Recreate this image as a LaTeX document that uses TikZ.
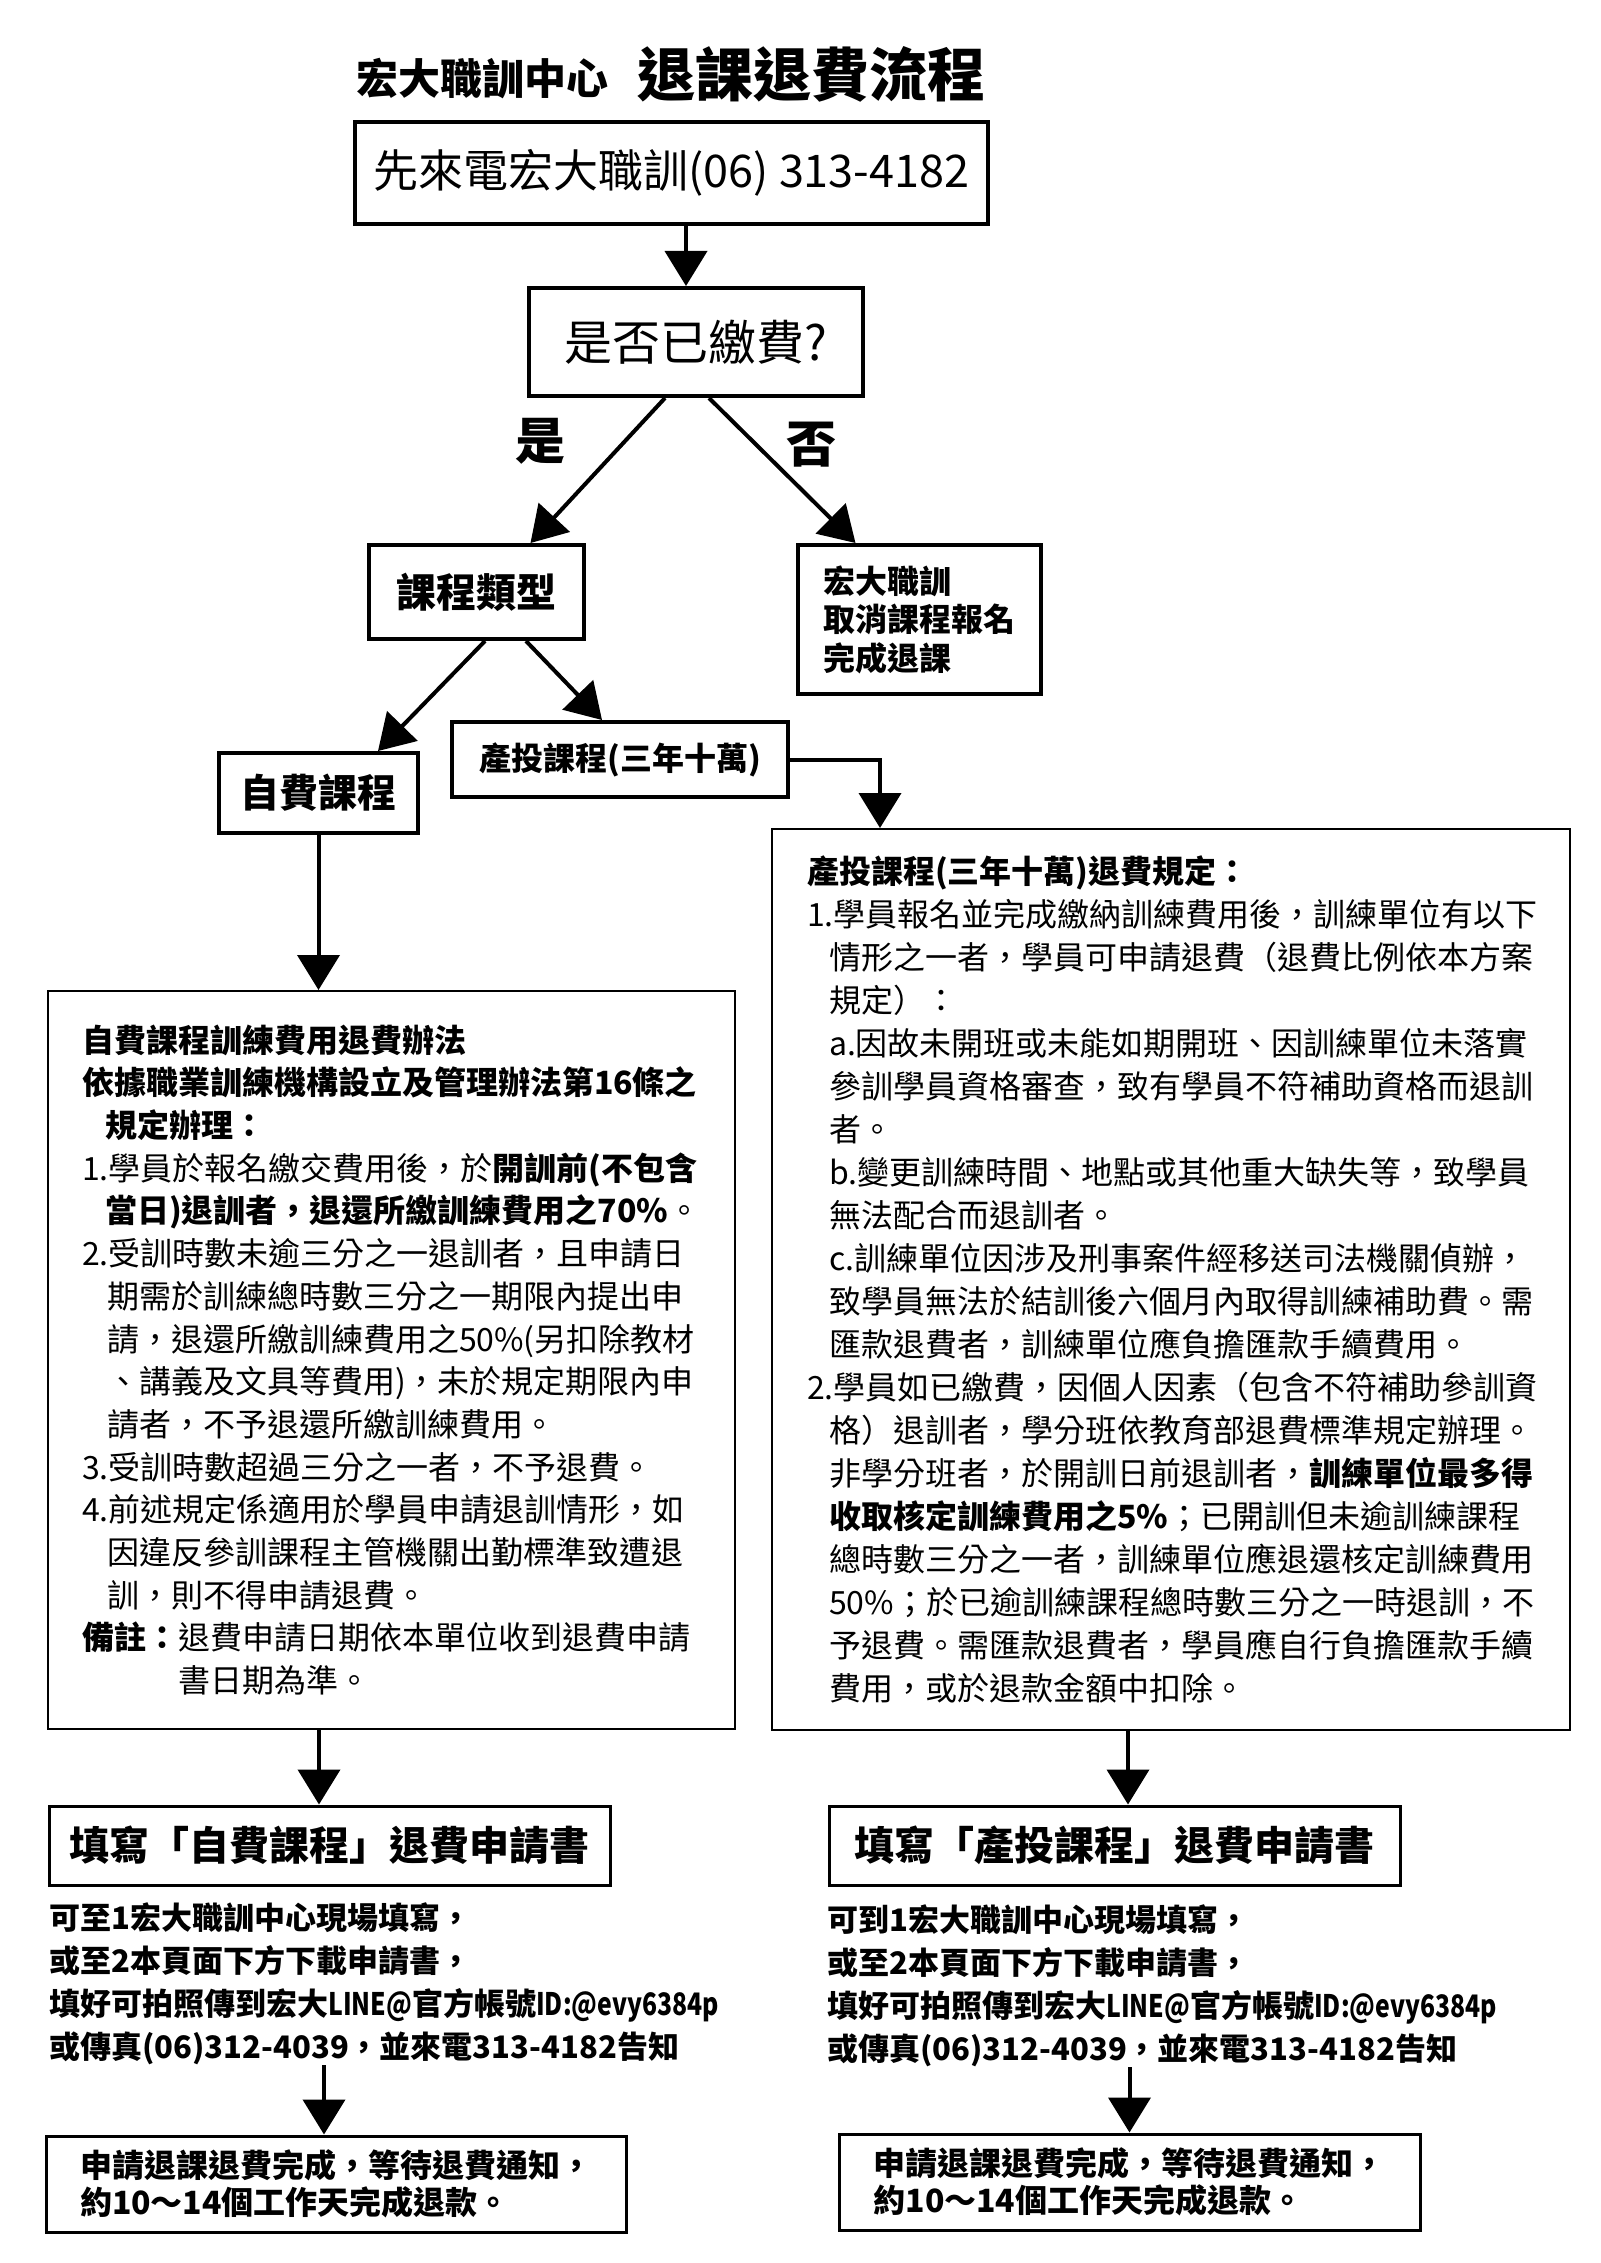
\documentclass[tikz,border=0pt]{standalone}
\usepackage{fontspec}
\setmainfont{Noto Sans CJK TC}
\newfontfamily\narrowlatin[FakeStretch=0.8]{Noto Sans CJK TC}
\usetikzlibrary{arrows.meta,calc}

\newcommand{\setfs}[2]{\fontsize{#1}{#2}\selectfont}
\newcommand{\nl}[1]{{\narrowlatin\bfseries #1}}

\tikzset{
  box/.style={draw, line width=2pt, inner sep=0pt, align=center},
  formbox/.style={draw, line width=1.5pt, inner sep=0pt, align=left},
  rulebox/.style={draw, line width=1pt, inner ysep=0pt, align=left},
  note/.style={inner sep=0pt, align=left},
  arr/.style={line width=2pt, ->},
}

\begin{document}
\begin{tikzpicture}[x=0.5pt, y=-0.5pt, line join=miter, >={Triangle[width=21pt,length=17.5pt]}]
\useasboundingbox (0,0) rectangle (1600,2263);

% title
\node[inner sep=0pt, font=\bfseries\setfs{21pt}{21pt}] (org) at (482,79) {宏大職訓中心};
\node[inner sep=0pt, font=\bfseries\setfs{29pt}{29pt}] (title) at (811,74) {退課退費流程};

% top of the flow
\node[box, minimum width=316.5pt, minimum height=51pt, font=\setfs{22.5pt}{22.5pt}] (call) at (671.5,173) {先來電宏大職訓(06) 313-4182};
\node[box, minimum width=167pt, minimum height=54pt, font=\setfs{24pt}{24pt}] (paid) at (696,342) {是否已繳費?};
\node[inner sep=0pt, font=\bfseries\setfs{25pt}{25pt}] (yes) at (540,441) {是};
\node[inner sep=0pt, font=\bfseries\setfs{25pt}{25pt}] (no) at (811,445) {否};

\node[box, minimum width=107.5pt, minimum height=47pt, font=\bfseries\setfs{20pt}{20pt}] (type) at (476.5,592) {課程類型};
\node[box, minimum width=121.5pt, minimum height=74.5pt, align=left, font=\bfseries\setfs{16pt}{19.25pt}] (cancel) at (919.5,619.5) {宏大職訓\\取消課程報名\\完成退課};
\node[box, minimum width=168pt, minimum height=37.5pt, font=\bfseries\setfs{16pt}{16pt}] (sangtou) at (620,759.5) {產投課程(三年十萬)};
\node[box, minimum width=99.5pt, minimum height=40pt, font=\bfseries\setfs{19.5pt}{19.5pt}] (zifei) at (318.5,793) {自費課程};

\draw[arr] ([xshift=7.25pt]call.south) -- ([xshift=-5pt]paid.north);
\draw[arr] ([xshift=-15.5pt]paid.south) -- ([xshift=27pt]type.north);
\draw[arr] ([xshift=6.5pt]paid.south) -- ([xshift=-32pt]cancel.north);
\draw[arr] ([xshift=4.25pt]type.south) -- ([xshift=29.75pt]zifei.north);
\draw[arr] ([xshift=24.75pt]type.south) -- ([xshift=-9pt]sangtou.north);

% refund rules
\node[rulebox, minimum width=343.5pt, minimum height=369pt, text width=309.5pt, inner xsep=17pt, font=\setfs{16pt}{21.35pt}] (zfrule) at (391.5,1360) {%
\textbf{自費課程訓練費用退費辦法}\\
\textbf{依據職業訓練機構設立及管理辦法第16條之}\\
\hspace*{11.5pt}\textbf{規定辦理：}\\
1.學員於報名繳交費用後，於\textbf{開訓前(不包含}\\
\hspace*{11.5pt}\textbf{當日)退訓者，退還所繳訓練費用之70\%}。\\
2.受訓時數未逾三分之一退訓者，且申請日\\
\hspace*{12.5pt}期需於訓練總時數三分之一期限內提出申\\
\hspace*{12.5pt}請，退還所繳訓練費用之50\%(另扣除教材\\
\hspace*{12.5pt}、講義及文具等費用)，未於規定期限內申\\
\hspace*{12.5pt}請者，不予退還所繳訓練費用。\\
3.受訓時數超過三分之一者，不予退費。\\
4.前述規定係適用於學員申請退訓情形，如\\
\hspace*{12.5pt}因違反參訓課程主管機關出勤標準致遭退\\
\hspace*{12.5pt}訓，則不得申請退費。\\
\textbf{備註：}退費申請日期依本單位收到退費申請\\
\hspace*{48pt}書日期為準。\\[4pt]};

\node[rulebox, minimum width=399pt, minimum height=450.5pt, text width=364pt, inner xsep=17.5pt, font=\setfs{16pt}{21.5pt}] (strule) at (1171,1279.5) {%
\textbf{產投課程(三年十萬)退費規定：}\\
1.學員報名並完成繳納訓練費用後，訓練單位有以下\\
\hspace*{11pt}情形之一者，學員可申請退費（退費比例依本方案\\
\hspace*{11pt}規定）：\\
\hspace*{11pt}a.因故未開班或未能如期開班、因訓練單位未落實\\
\hspace*{11pt}參訓學員資格審查，致有學員不符補助資格而退訓\\
\hspace*{11pt}者。\\
\hspace*{11pt}b.變更訓練時間、地點或其他重大缺失等，致學員\\
\hspace*{11pt}無法配合而退訓者。\\
\hspace*{11pt}c.訓練單位因涉及刑事案件經移送司法機關偵辦，\\
\hspace*{11pt}致學員無法於結訓後六個月內取得訓練補助費。需\\
\hspace*{11pt}匯款退費者，訓練單位應負擔匯款手續費用。\\
2.學員如已繳費，因個人因素（包含不符補助參訓資\\
\hspace*{11pt}格）退訓者，學分班依教育部退費標準規定辦理。\\
\hspace*{11pt}非學分班者，於開訓日前退訓者，\textbf{訓練單位最多得}\\
\hspace*{11pt}\textbf{收取核定訓練費用之5\%}；已開訓但未逾訓練課程\\
\hspace*{11pt}總時數三分之一者，訓練單位應退還核定訓練費用\\
\hspace*{11pt}50\%；於已逾訓練課程總時數三分之一時退訓，不\\
\hspace*{11pt}予退費。需匯款退費者，學員應自行負擔匯款手續\\
\hspace*{11pt}費用，或於退款金額中扣除。};

\draw[arr] (sangtou.east) -| ([xshift=-145.5pt]strule.north);
\draw[arr] (zifei.south) -- (zifei.south |- zfrule.north);

% application forms
\node[formbox, minimum width=280.5pt, minimum height=39.5pt, font=\bfseries\setfs{20pt}{20pt}] (zfform) at (329.5,1845.5) {填寫「自費課程」退費申請書};
\node[formbox, minimum width=285.5pt, minimum height=39.5pt, font=\bfseries\setfs{20pt}{20pt}] (stform) at (1114.5,1845.5) {填寫「產投課程」退費申請書};

\draw[arr] ($(zfrule.south -| zfform.north)+(-5.25pt,0)$) -- ([xshift=-5.25pt]zfform.north);
\draw[arr] ($(strule.south -| stform.north)+(6.75pt,0)$) -- ([xshift=6.75pt]stform.north);

\node[note, anchor=west, font=\bfseries\setfs{15.5pt}{21.5pt}] (zftext) at (49,1983.5) {可至1宏大職訓中心現場填寫，\\或至2本頁面下方下載申請書，\\填好可拍照傳到宏大\nl{LINE@}官方帳號\nl{ID:@evy6384p}\\或傳真(06)312-4039，並來電313-4182告知};
\node[note, anchor=west, font=\bfseries\setfs{15.5pt}{21.5pt}] (sttext) at (827,1985.5) {可到1宏大職訓中心現場填寫，\\或至2本頁面下方下載申請書，\\填好可拍照傳到宏大\nl{LINE@}官方帳號\nl{ID:@evy6384p}\\或傳真(06)312-4039，並來電313-4182告知};

% done
\node[formbox, minimum width=290pt, minimum height=48pt, font=\bfseries\setfs{16pt}{18.5pt}] (zfdone) at (336,2184) {申請退課退費完成，等待退費通知，\\約10～14個工作天完成退款。};
\node[formbox, minimum width=290.5pt, minimum height=48pt, font=\bfseries\setfs{16pt}{18.5pt}] (stdone) at (1129.5,2182) {申請退課退費完成，等待退費通知，\\約10～14個工作天完成退款。};

\draw[arr] ($(zftext.south -| zfdone.north)+(-6pt,0)$) -- ([xshift=-6pt]zfdone.north);
\draw[arr] (sttext.south -| stdone.north) -- (stdone.north);
\end{tikzpicture}
\end{document}
